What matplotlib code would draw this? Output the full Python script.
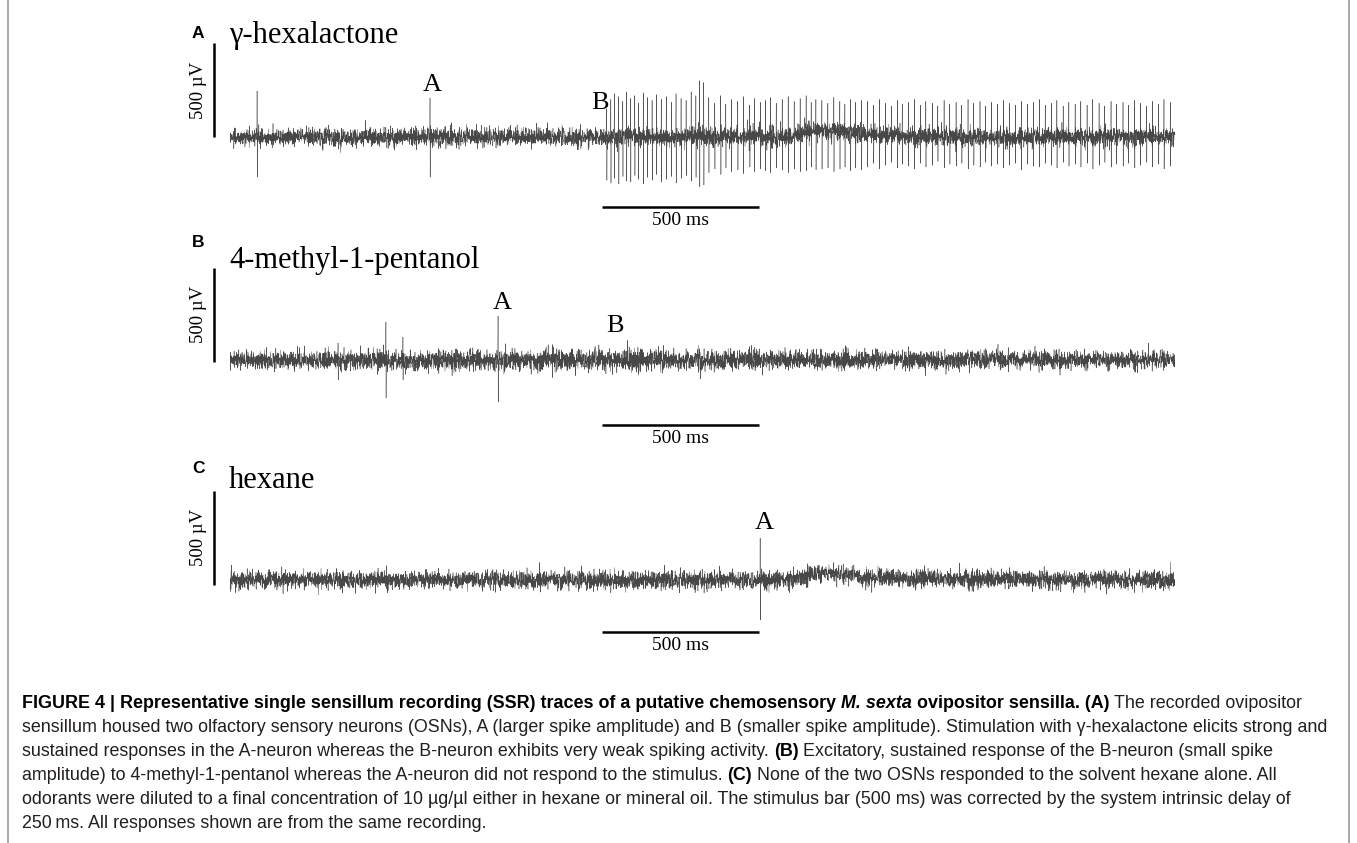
import numpy as np
import matplotlib
matplotlib.use("Agg")
import matplotlib.pyplot as plt

W, H = 1357, 843

# ---- data (times in ms, amplitudes in uV) ----
# panel A: gamma-hexalactone
a_pre_times = [86, 635]
a_pre_up = [245, 207]
a_pre_down = [213, 213]
a_resp_times = [1196, 1209, 1220, 1234, 1247, 1259, 1272, 1285, 1297, 1312, 1325, 1340,
                1354, 1369, 1385, 1401, 1416, 1432, 1448, 1464, 1479, 1491, 1504,
                1520, 1539, 1558, 1574, 1592, 1612, 1630, 1650, 1665, 1684, 1700, 1716,
                1734, 1753, 1772, 1791, 1810, 1829, 1845, 1860, 1879, 1898, 1917, 1936,
                1952, 1970, 1986, 2005,
                2024, 2043, 2062, 2081, 2100, 2119, 2134, 2154, 2173, 2192, 2209, 2230,
                2247, 2267, 2285, 2305, 2323, 2343, 2361, 2381, 2398, 2417, 2436, 2455,
                2474, 2493, 2512, 2532, 2551, 2570, 2588, 2608, 2625, 2645, 2663, 2683,
                2701, 2721, 2739, 2759, 2777, 2797, 2814, 2835, 2852, 2872, 2890, 2910,
                2928, 2948, 2965, 2985]
a_resp_up = [150, 200, 230, 215, 190, 240, 205, 220, 180, 235, 210, 195, 225, 200, 215,
             185, 230, 205, 195, 240, 220, 300, 290,
             210, 180, 220, 175, 200, 190, 215, 170, 205, 185, 195, 210, 180, 200, 215,
             190, 205, 220, 185, 200, 195, 180, 210, 190, 175, 200, 185, 195,
             190, 170, 200, 180, 165, 195, 175, 185, 200, 170, 190, 180, 165, 195, 175,
             185, 170, 200, 180, 190, 165, 185, 175, 195, 180, 170, 190, 175, 185, 200,
             170, 180, 195, 165, 185, 175, 190, 170, 200, 180, 165, 190, 175, 185, 170,
             195, 180, 165, 190, 175, 200, 185]
a_resp_down = [230, 245, 220, 250, 210, 235, 240, 205, 225, 250, 215, 230, 200, 240, 225,
               210, 245, 220, 205, 235, 215, 265, 255,
               190, 170, 200, 165, 185, 175, 195, 160, 185, 170, 180, 190, 165, 175, 190,
               170, 185, 180, 160, 175, 170, 165, 185, 170, 160, 180, 165, 175,
               160, 140, 170, 150, 135, 165, 145, 155, 170, 140, 160, 150, 130, 165, 145,
               155, 140, 170, 150, 160, 135, 155, 145, 165, 150, 140, 175, 145, 155, 160,
               140, 150, 165, 135, 155, 145, 160, 140, 170, 150, 135, 160, 145, 155, 140,
               165, 150, 135, 160, 145, 170, 155]
a_hump_t = [0, 1750, 1800, 1870, 1950, 2050, 2300, 3000]
a_hump_v = [0, 0, 15, 40, 25, 10, 0, 0]
a_noise_t = [0, 1190, 3000]
a_noise_sd = [23, 25, 24]

# panel B: 4-methyl-1-pentanol
b_times = [343, 495, 549, 851]
b_up = [90, 202, 122, 234]
b_down = [106, 202, 106, 223]
b_hump_t = [0, 3000]
b_hump_v = [0, 0]
b_noise_t = [0, 1190, 1700, 3000]
b_noise_sd = [23, 30, 26, 24]

# panel C: hexane
c_times = [1683]
c_up = [223]
c_down = [213]
c_hump_t = [0, 1780, 1830, 1870, 1910, 2000, 2300, 3000]
c_hump_v = [0, 0, 20, 45, 35, 15, 5, 0]
c_noise_t = [0, 3000]
c_noise_sd = [24, 24]

panel_letters = ["A", "B", "C"]
odors = ["\u03b3-hexalactone", "4-methyl-1-pentanol", "hexane"]
stim_start = 1180   # ms, 500 ms stimulus bar
stim_len = 500
scale_uv = 500

SERIF = ["Liberation Serif", "DejaVu Serif"]
SANS = ["Liberation Sans", "DejaVu Sans"]
CAP = ["Liberation Sans Narrow", "Liberation Sans", "DejaVu Sans"]

fig = plt.figure(figsize=(W / 100, H / 100), dpi=100, facecolor="white")
renderer = fig.canvas.get_renderer()


def fx(x):
    return x / W


def fy(y):
    return 1 - y / H


def make_trace(times, ups, downs, hump_t, hump_v, noise_t, noise_sd, seed):
    t = np.arange(0, 3000, 0.5)
    rng = np.random.default_rng(seed)
    sd = np.interp(t, noise_t, noise_sd)
    sig = rng.standard_normal(t.size) * sd + np.interp(t, hump_t, hump_v)
    for st, u, d in zip(times, ups, downs):
        i = np.searchsorted(t, st)
        sig[i] = u
        sig[i + 1] = -d
    return t, sig


traces = [
    make_trace(a_pre_times + a_resp_times, a_pre_up + a_resp_up, a_pre_down + a_resp_down,
               a_hump_t, a_hump_v, a_noise_t, a_noise_sd, 1),
    make_trace(b_times, b_up, b_down, b_hump_t, b_hump_v, b_noise_t, b_noise_sd, 2),
    make_trace(c_times, c_up, c_down, c_hump_t, c_hump_v, c_noise_t, c_noise_sd, 3),
]

# layout per panel (pixels): baseline of trace, title baseline, letter baseline
baselines = [137, 360, 580]
title_y = [43, 268, 488]
letter_y = [38, 247, 473]
vbar_lo = [0, -10, -25]
hbar_y = [-372, -346, -277]
# neuron labels (time, uV, text)
neuron_labels = [
    [(641, 277, "A"), (1175, 181, "B")],
    [(864, 303, "A"), (1222, 181, "B")],
    [(1695, 303, "A")],
]

for k in range(3):
    base = baselines[k]
    ax = fig.add_axes([fx(230), fy(base + 94), fx(945), 188 / H])
    ax.set_xlim(0, 3000)
    ax.set_ylim(-500, 500)
    ax.axis("off")
    t, sig = traces[k]
    ax.plot(t, sig, color="black", lw=0.33, alpha=0.72)

    # scale bars
    ax.plot([-51, -51], [vbar_lo[k], vbar_lo[k] + scale_uv], color="black", lw=1.8,
            clip_on=False, solid_capstyle="butt")
    ax.text(-100, vbar_lo[k] + scale_uv / 2, "500 \u00b5V", rotation=90, ha="center",
            va="center", fontsize=13.5, family=SERIF)
    ax.plot([stim_start, stim_start + stim_len], [hbar_y[k], hbar_y[k]], color="black",
            lw=1.8, clip_on=False, solid_capstyle="butt")
    ax.text(stim_start + stim_len / 2, hbar_y[k] - 72, "500 ms", ha="center", va="center",
            fontsize=14, family=SERIF)

    for (lt, lv, s) in neuron_labels[k]:
        ax.text(lt, lv, s, ha="center", va="center", fontsize=19, family=SERIF)

    fig.text(fx(192), fy(letter_y[k]), panel_letters[k], fontsize=12.5, weight="bold",
             family=SANS, va="baseline", ha="left")
    fig.text(fx(229), fy(title_y[k]), odors[k], fontsize=22, family=SERIF,
             va="baseline", ha="left")

# ---- caption ----
cap_lines = [
    [("FIGURE 4 | Representative single sensillum recording (SSR) traces of a putative chemosensory ", "bold", "normal"),
     ("M. sexta", "bold", "italic"),
     (" ovipositor sensilla. (A)", "bold", "normal"),
     (" The recorded ovipositor", "normal", "normal")],
    [("sensillum housed two olfactory sensory neurons (OSNs), A (larger spike amplitude) and B (smaller spike amplitude). Stimulation with \u03b3-hexalactone elicits strong and", "normal", "normal")],
    [("sustained responses in the A-neuron whereas the B-neuron exhibits very weak spiking activity. ", "normal", "normal"),
     ("(B)", "bold", "normal"),
     (" Excitatory, sustained response of the B-neuron (small spike", "normal", "normal")],
    [("amplitude) to 4-methyl-1-pentanol whereas the A-neuron did not respond to the stimulus. ", "normal", "normal"),
     ("(C)", "bold", "normal"),
     (" None of the two OSNs responded to the solvent hexane alone. All", "normal", "normal")],
    [("odorants were diluted to a final concentration of 10 \u00b5g/\u00b5l either in hexane or mineral oil. The stimulus bar (500 ms) was corrected by the system intrinsic delay of", "normal", "normal")],
    [("250\u2009ms. All responses shown are from the same recording.", "normal", "normal")],
]
cap_y0, cap_dy = 708, 24
cap_size = 12.9


def text_width(s, weight, style):
    tmp = fig.text(0, 0, s, fontsize=cap_size, family=CAP, weight=weight, style=style)
    w = tmp.get_window_extent(renderer).width
    tmp.remove()
    return w


space_w = {}
for wt in ["normal", "bold"]:
    space_w[wt] = text_width("x x", wt, "normal") - text_width("xx", wt, "normal")

for i, runs in enumerate(cap_lines):
    x = 22
    y = cap_y0 + i * cap_dy
    for s, wt, st in runs:
        lead = len(s) - len(s.lstrip(" "))
        trail = len(s) - len(s.rstrip(" "))
        x += lead * space_w[wt]
        core = s.strip(" ")
        col = "black" if wt == "bold" else "#231f20"
        t = fig.text(fx(x), fy(y), core, fontsize=cap_size, family=CAP, weight=wt,
                     style=st, va="baseline", ha="left", color=col)
        x += t.get_window_extent(renderer).width + trail * space_w[wt]

# frame lines around the figure
fig.add_artist(plt.Line2D([fx(8), fx(8)], [0, 1], color="#999999", lw=1.2))
fig.add_artist(plt.Line2D([fx(1349), fx(1349)], [0, 1], color="#999999", lw=1.2))

fig.savefig("out.png", dpi=100, facecolor="white")
